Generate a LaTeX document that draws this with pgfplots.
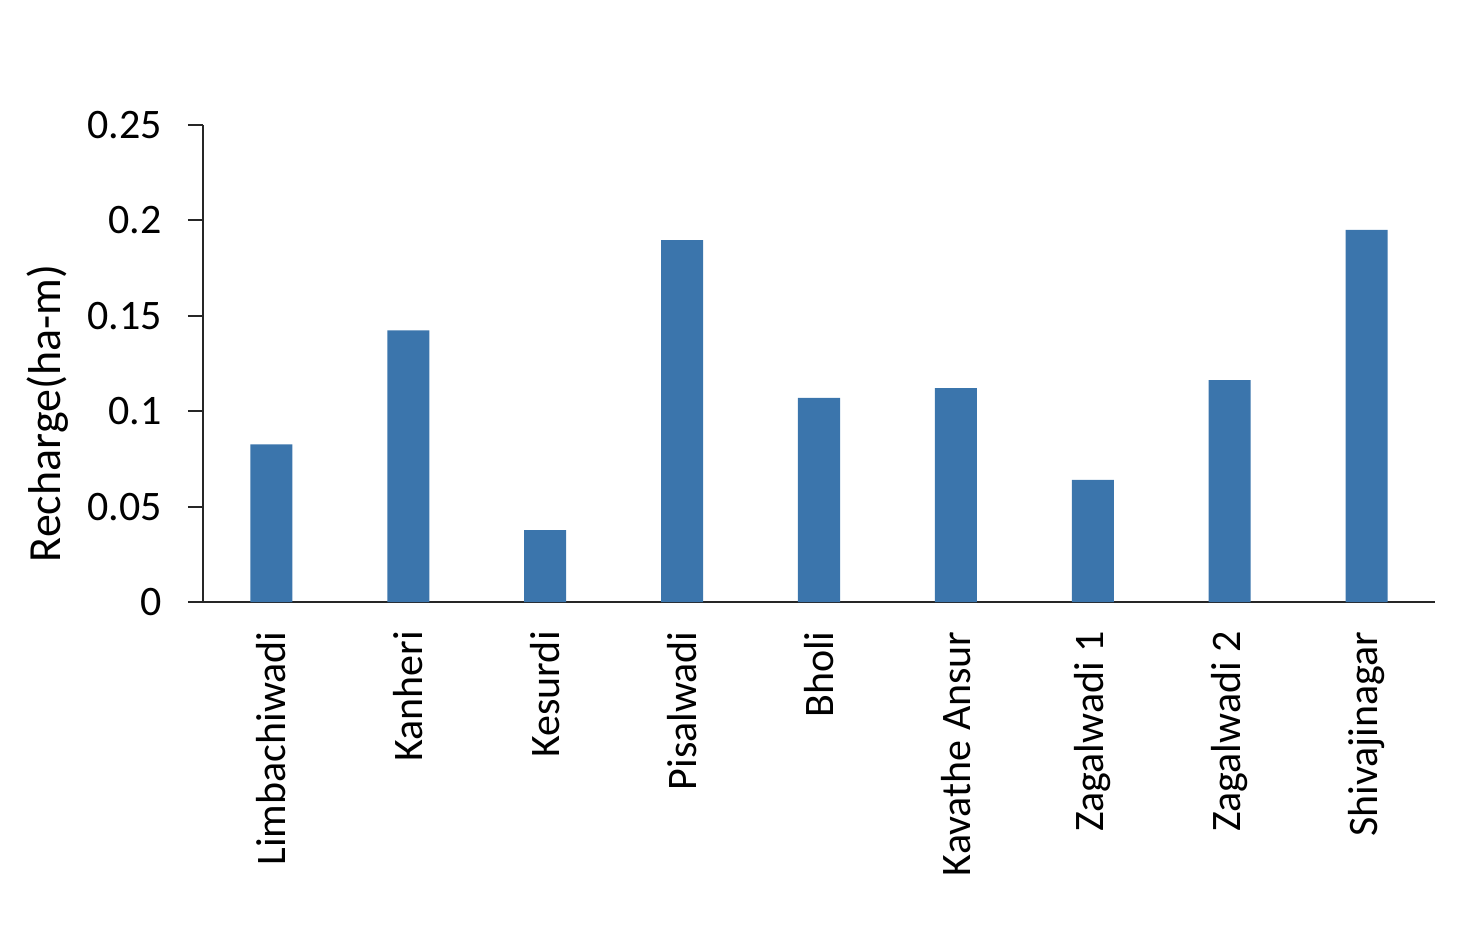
\documentclass[border=0pt]{standalone}
\usepackage{pgfplots}
\pgfplotsset{compat=1.18}
\usepackage{fontspec}
\setmainfont{Carlito}
\definecolor{barblue}{RGB}{59,117,172}

\begin{document}
\fontsize{21}{25}\selectfont
\begin{tikzpicture}
  \begin{axis}[
    scale only axis,
    width=616pt,
    height=238.5pt,
    anchor=south west,
    at={(0,0)},
    axis x line=bottom,
    axis y line=left,
    axis line style={-, line width=1pt, black!85},
    xmin=-0.5, xmax=8.5,
    ymin=0, ymax=0.25,
    ytick={0,0.05,0.1,0.15,0.2,0.25},
    yticklabels={0,0.05,0.1,0.15,0.2,0.25},
    xtick=data,
    xticklabels={Limbachiwadi,Kanheri,Kesurdi,Pisalwadi,Bholi,Kavathe Ansur,Zagalwadi 1,Zagalwadi 2,Shivajinagar},
    x tick style={draw=none},
    y tick style={line width=1pt, black!85},
    tick align=outside,
    major tick length=7.5pt,
    xticklabel style={rotate=90, anchor=east, xshift=0pt},
    yticklabel style={xshift=-6pt},
    ylabel={Recharge(ha-m)},
    ylabel style={font=\fontsize{23}{27}\selectfont, xshift=-25pt, yshift=-5pt},
    ybar,
    bar width=21pt,
  ]
  \addplot[fill=barblue, draw=none] coordinates {
    (0,0.0826) (1,0.1424) (2,0.0377) (3,0.1897) (4,0.1070)
    (5,0.1121) (6,0.0640) (7,0.1163) (8,0.1950)
  };
  \end{axis}
  \pgfresetboundingbox
  \path[use as bounding box] (-101.5pt,-165pt) rectangle (631pt,301pt);
\end{tikzpicture}
\end{document}
